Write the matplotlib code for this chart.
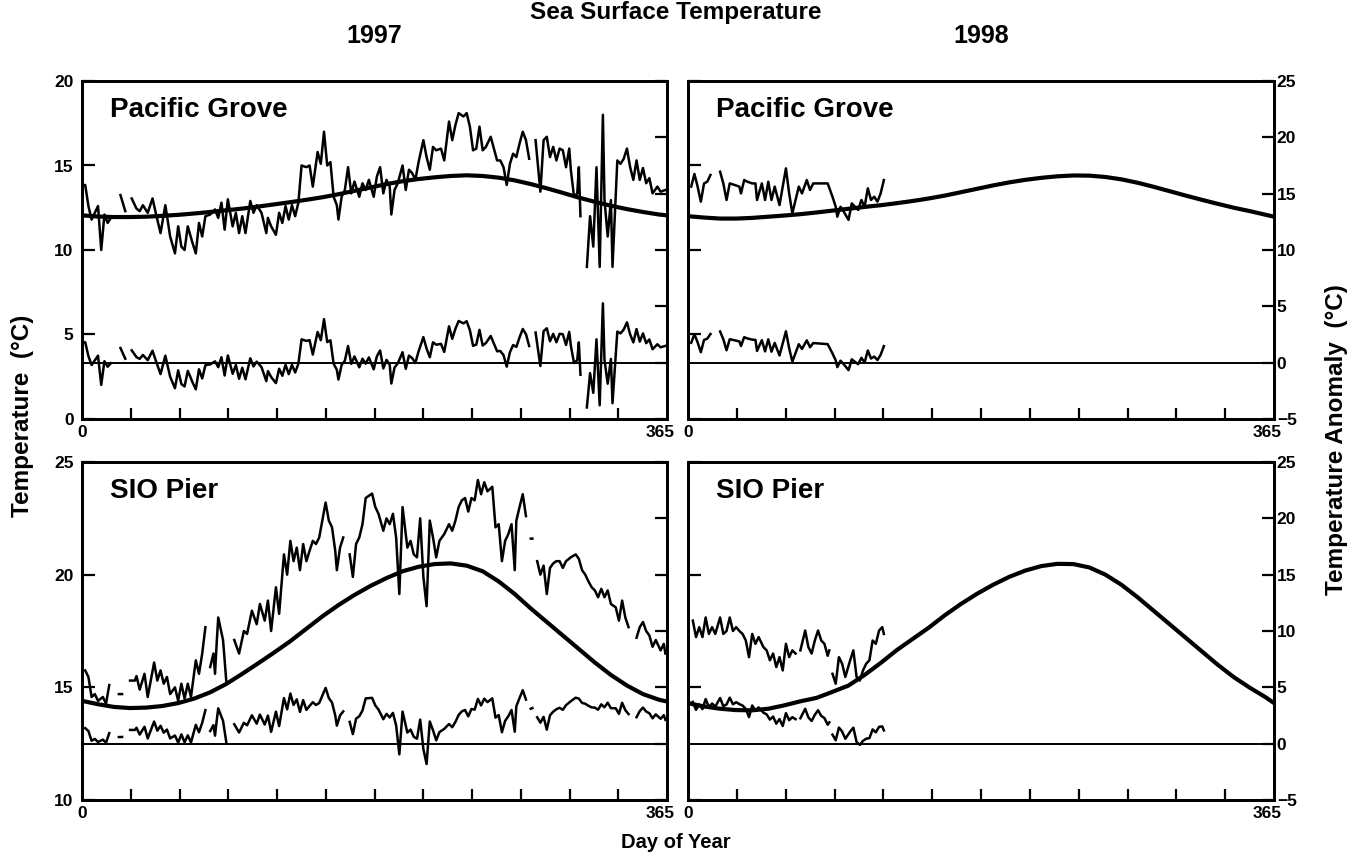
import numpy as np
import matplotlib
matplotlib.use("Agg")
import matplotlib.pyplot as plt
from matplotlib.transforms import ScaledTranslation

nan = np.nan

# daily sea surface temperature readings (day of year, deg C); nan = missing data
PG97_DAYS = [0, 2, 4, 6, 8, 10, 12, 14, 16, 18, 21, 24, 27, 29, 31, 34, 36, 38, 41, 44,
             46, 49, 52, 55, 58, 60, 62, 64, 66, 69, 71, 73, 75, 77, 80, 83, 85, 87, 89, 91,
             94, 96, 98, 100, 102, 105, 107, 109, 112, 115, 116, 118, 121, 123, 125, 127, 129, 131, 133, 135,
             137, 140, 142, 144, 147, 149, 151, 153, 155, 157, 159, 160, 162, 164, 166, 168, 170, 173, 175, 177,
             179, 182, 184, 186, 188, 190, 192, 193, 195, 197, 200, 202, 204, 206, 208, 210, 213, 215, 217, 219,
             221, 224, 226, 229, 231, 233, 235, 238, 240, 242, 244, 246, 248, 250, 252, 255, 257, 259, 261, 263,
             265, 267, 269, 271, 273, 275, 277, 279, 281, 283, 286, 288, 290, 292, 294, 296, 298, 300, 302, 304,
             305, 307, 309, 310, 311, 313, 315, 317, 319, 321, 323, 325, 326, 328, 330, 331, 334, 336, 338, 340,
             342, 344, 346, 348, 350, 352, 354, 356, 359, 361, 364]
PG97_TEMP = [13.8, 13.85, 12.6, 11.8, 12.2, 12.6, 10.0, 12.1, 11.6, 11.9, nan, 13.25, 12.3, nan, 13.05, 12.45, 12.3, 12.65, 12.2, 13.05,
             12.2, 11.0, 12.65, 10.8, 9.8, 11.4, 10.2, 10.0, 11.4, 10.4, 9.8, 11.6, 10.8, 12.0, 12.1, 12.4, 11.9, 12.8, 11.2, 13.0,
             11.4, 12.2, 11.0, 12.0, 11.0, 12.9, 12.2, 12.65, 12.2, 11.0, 11.9, 11.4, 10.9, 12.2, 11.6, 12.6, 11.8, 12.65, 12.0, 12.8,
             15.0, 14.9, 15.0, 13.75, 15.8, 15.1, 17.0, 15.0, 15.2, 13.15, 12.65, 11.8, 13.15, 13.55, 14.9, 13.35, 14.05, 13.15, 13.95, 13.55,
             14.15, 13.15, 14.35, 14.9, 13.35, 14.15, 13.75, 12.1, 13.55, 13.95, 15.0, 13.55, 14.75, 14.55, 14.15, 15.2, 16.5, 15.5, 14.75, 16.1,
             15.9, 16.0, 15.3, 17.6, 16.5, 17.4, 18.1, 17.9, 18.1, 17.3, 15.9, 16.0, 17.3, 15.9, 16.1, 16.7, 16.0, 15.3, 15.3, 14.9,
             13.85, 15.1, 15.7, 15.5, 16.3, 17.0, 16.5, 15.4, nan, 16.5, 13.45, 16.5, 16.7, 15.5, 16.1, 15.3, 16.0, 15.9, 14.9, 16.0,
             14.75, 13.15, 13.35, 14.9, 12.0, nan, 9.0, 12.0, 10.2, 14.9, 9.0, 18.0, 12.95, 10.8, 12.95, 9.0, 15.3, 15.1, 15.4, 16.0,
             14.9, 14.15, 15.3, 14.15, 14.85, 13.95, 14.25, 13.35, 13.75, 13.45, 13.55]

PG98_DAYS = [2, 4, 6, 8, 10, 12, 14, 17, 20, 22, 24, 26, 29, 32, 33, 35, 37, 40, 42, 43,
             46, 48, 50, 52, 54, 57, 59, 61, 63, 65, 67, 69, 71, 74, 76, 78, 81, 84, 87, 90,
             92, 93, 95, 97, 100, 102, 104, 106, 108, 110, 112, 114, 116, 118, 120, 122]
PG98_TEMP = [13.75, 14.5, 13.75, 12.86, 13.94, 14.04, 14.44, nan, 14.63, 13.94, 12.96, 13.94, 13.85, 13.75, 13.35, 14.14, 14.04, 13.94, 13.94, 12.96,
             13.94, 12.96, 14.04, 12.96, 13.75, 12.66, 13.75, 14.83, 13.35, 12.17, 12.96, 13.75, 13.35, 14.14, 13.55, 13.94, 13.94, 13.94, 13.94, 13.15,
             12.56, 11.97, 12.56, 12.27, 11.78, 12.76, 12.56, 12.37, 12.96, 12.56, 13.65, 12.96, 13.15, 12.86, 13.35, 14.14]

SIO97_DAYS = [2, 4, 6, 8, 10, 13, 15, 17, 20, 23, 25, 27, 30, 33, 34, 36, 39, 41, 45, 47,
              49, 51, 53, 55, 58, 60, 62, 64, 66, 68, 71, 73, 75, 77, 78, 80, 82, 83, 84, 85,
              88, 90, 93, 95, 98, 101, 103, 106, 109, 111, 114, 116, 118, 121, 123, 126, 128, 130, 132, 134,
              136, 138, 140, 142, 144, 146, 148, 152, 154, 156, 158, 159, 161, 163, 165, 167, 169, 171, 173, 175,
              177, 181, 183, 185, 188, 190, 192, 194, 196, 198, 200, 203, 205, 207, 209, 211, 213, 215, 217, 219,
              221, 223, 226, 229, 231, 233, 235, 237, 239, 241, 243, 245, 247, 249, 251, 253, 256, 258, 260, 262,
              264, 266, 268, 270, 271, 273, 275, 277, 279, 280, 281, 282, 284, 286, 288, 290, 292, 294, 296, 298,
              300, 302, 305, 308, 310, 312, 314, 316, 318, 320, 322, 324, 326, 328, 330, 333, 335, 337, 339, 341,
              344, 346, 348, 350, 352, 354, 356, 358, 361, 363, 364]
SIO97_TEMP = [15.75, 15.46, 14.57, 14.7, 14.4, 14.57, 14.28, 15.1, nan, 14.7, 14.7, nan, 15.3, 15.3, 15.5, 14.9, 15.6, 14.57, 16.1, 15.3,
              15.75, 15.16, 15.46, 14.7, 15.0, 14.4, 15.16, 14.5, 15.16, 14.57, 16.2, 15.6, 16.5, 17.67, nan, 15.9, 16.5, 15.6, 16.93, 18.1,
              17.1, 15.3, nan, 17.1, 16.5, 17.5, 17.37, 18.4, 17.8, 18.7, 17.96, 18.85, 17.5, 19.44, 18.26, 20.9, 20.0, 21.5, 20.6, 21.2,
              20.2, 21.36, 20.6, 21.06, 21.5, 21.36, 21.65, 23.2, 22.4, 22.1, 21.06, 20.2, 21.2, 21.65, nan, 20.9, 19.9, 21.36, 21.65, 22.24,
              23.4, 23.6, 23.0, 22.7, 21.95, 22.5, 22.24, 22.7, 21.65, 19.14, 23.0, 21.2, 21.5, 20.9, 20.77, 22.5, 19.9, 18.6, 22.4, 21.65,
              20.77, 21.5, 21.8, 22.24, 21.95, 22.4, 23.0, 23.3, 23.4, 22.8, 23.4, 23.3, 24.2, 23.57, 24.1, 23.7, 23.9, 22.1, 22.24, 20.6,
              21.5, 21.8, 22.24, 20.2, 22.4, 23.0, 23.57, 22.6, nan, 21.6, 21.6, nan, 20.6, 20.0, 20.4, 19.14, 20.3, 20.5, 20.6, 20.6,
              20.3, 20.6, 20.77, 20.9, 20.7, 20.2, 20.0, 19.7, 19.44, 19.3, 19.0, 19.37, 19.0, 19.3, 18.7, 18.55, 17.96, 18.85, 18.1, 17.67,
              nan, 17.2, 17.67, 17.9, 17.5, 17.3, 16.8, 17.1, 16.64, 16.93, 16.5]

SIO98_DAYS = [3, 5, 7, 9, 11, 13, 15, 17, 20, 22, 24, 26, 28, 30, 32, 34, 36, 38, 40, 42,
              44, 47, 49, 51, 53, 55, 57, 59, 61, 63, 65, 67, 69, 70, 73, 75, 77, 79, 81, 83,
              85, 87, 88, 89, 90, 92, 94, 96, 98, 101, 103, 105, 107, 109, 111, 113, 115, 117, 119, 121, 122]
SIO98_TEMP = [17.96, 17.23, 17.67, 17.23, 18.1, 17.37, 17.67, 17.37, 18.1, 17.37, 17.5, 18.1, 17.5, 17.67, 17.5, 17.37, 17.08, 16.34, 17.37, 16.93,
              17.23, 16.78, 16.64, 16.2, 16.5, 15.9, 16.34, 15.75, 16.93, 16.34, 16.64, 16.5, nan, 16.64, 17.52, 16.78, 16.5, 17.08, 17.52, 17.08,
              16.93, 16.4, 16.64, nan, 15.6, 15.16, 16.34, 16.05, 15.46, 16.2, 16.64, 15.46, 15.3, 15.75, 16.05, 16.2, 17.08, 16.93, 17.52, 17.67, 17.37]

# seasonal climatology curves (deg C), read every 10 days
CLIM_DAYS = [0, 10, 20, 30, 40, 50, 60, 70, 80, 90, 100, 110, 120, 130, 140, 150, 160, 170, 180,
             190, 200, 210, 220, 230, 240, 250, 260, 270, 280, 290, 300, 310, 320, 330, 340, 350, 360, 365]
PG97_CLIM = [12.05, 11.98, 11.95, 11.95, 11.97, 12.02, 12.08, 12.16, 12.25, 12.35, 12.45, 12.57, 12.7, 12.83, 12.97, 13.12,
             13.3, 13.5, 13.7, 13.9, 14.07, 14.2, 14.3, 14.38, 14.42, 14.38, 14.28, 14.12, 13.9, 13.65, 13.38, 13.1,
             12.85, 12.62, 12.42, 12.25, 12.1, 12.05]
PG98_CLIM = [12.0, 11.92, 11.86, 11.86, 11.9, 11.97, 12.04, 12.12, 12.22, 12.33, 12.44, 12.55, 12.65, 12.77, 12.9, 13.05,
             13.22, 13.42, 13.62, 13.82, 14.0, 14.15, 14.27, 14.36, 14.41, 14.4, 14.32, 14.18, 13.98, 13.74, 13.48, 13.22,
             12.97, 12.73, 12.5, 12.3, 12.08, 11.97]
SIO97_CLIM = [14.4, 14.25, 14.13, 14.08, 14.1, 14.17, 14.3, 14.5, 14.78, 15.15, 15.6, 16.07, 16.55, 17.05, 17.6, 18.15,
              18.65, 19.1, 19.5, 19.85, 20.15, 20.35, 20.47, 20.5, 20.4, 20.15, 19.7, 19.14, 18.5, 17.9, 17.3, 16.7,
              16.1, 15.55, 15.08, 14.7, 14.45, 14.37]
SIO98_CLIM = [14.3, 14.15, 14.05, 13.99, 13.98, 14.05, 14.2, 14.38, 14.53, 14.8, 15.08, 15.55, 16.08, 16.65, 17.15, 17.65,
              18.2, 18.7, 19.15, 19.55, 19.9, 20.18, 20.38, 20.48, 20.47, 20.32, 20.0, 19.55, 19.0, 18.4, 17.8, 17.2,
              16.6, 16.0, 15.45, 14.98, 14.55, 14.3]

plt.rcParams['font.family'] = ['Liberation Sans', 'DejaVu Sans']
plt.rcParams['font.weight'] = 'bold'

fig = plt.figure(figsize=(13.53, 8.56), dpi=100)
W, H = 1353.0, 856.0


def panel_box(x0, x1, y0, y1):
    return [x0 / W, 1 - y1 / H, (x1 - x0) / W, (y1 - y0) / H]


def draw_panel(box, days, temps, clim, tlim, site, left):
    ax = fig.add_axes(box)
    days = np.array(days, float)
    temps = np.array(temps, float)
    ax.plot(CLIM_DAYS, clim, color="black", lw=3.0)
    ax.plot(days, temps, color="black", lw=1.8)
    ax.set_xlim(0, 365)
    ax.set_ylim(*tlim)

    # anomaly = observed minus climatology, on the right-hand scale
    tw = ax.twinx()
    tw.set_ylim(-5, 25)
    anom = temps - np.interp(days, CLIM_DAYS, clim)
    tw.plot(days, anom, color="black", lw=1.8)
    tw.axhline(0, color="black", lw=1.4)

    for a in (ax, tw):
        for s in a.spines.values():
            s.set_linewidth(2.0)

    ax.set_yticks(np.arange(tlim[0], tlim[1] + 1, 5))
    ax.tick_params(axis="y", direction="in", length=9, width=1.6, labelsize=12.5,
                   labelleft=left, pad=6)
    tw.set_yticks(np.arange(-5, 26, 5))
    tw.tick_params(axis="y", direction="in", length=9, width=1.6, labelsize=12.5,
                   labelright=not left, pad=2)

    ax.set_xticks([0, 365])
    ax.set_xticklabels(["0", "365"])
    ax.set_xticks(np.arange(1, 12) * 365 / 12.0, minor=True)
    ax.tick_params(axis="x", which="major", length=0, labelsize=12.5, pad=4)
    ax.tick_params(axis="x", which="minor", direction="in", length=8, width=1.6)
    labs = ax.get_xticklabels()
    labs[1].set_transform(labs[1].get_transform() + ScaledTranslation(-7 / 100, 0, fig.dpi_scale_trans))

    ax.text(0.048, 0.915, site, transform=ax.transAxes, fontsize=20,
            fontweight="bold", ha="left", va="center")
    return ax


draw_panel(panel_box(82, 667, 81, 419), PG97_DAYS, PG97_TEMP, PG97_CLIM, (0, 20), "Pacific Grove", True)
draw_panel(panel_box(688, 1274, 81, 419), PG98_DAYS, PG98_TEMP, PG98_CLIM, (0, 20), "Pacific Grove", False)
draw_panel(panel_box(82, 667, 462, 800), SIO97_DAYS, SIO97_TEMP, SIO97_CLIM, (10, 25), "SIO Pier", True)
draw_panel(panel_box(688, 1274, 462, 800), SIO98_DAYS, SIO98_TEMP, SIO98_CLIM, (10, 25), "SIO Pier", False)

fig.text(676 / W, 1 - 13 / H, "Sea Surface Temperature", ha="center", va="center",
         fontsize=17.5, fontweight="bold")
fig.text(374 / W, 1 - 36 / H, "1997", ha="center", va="center", fontsize=18, fontweight="bold")
fig.text(981 / W, 1 - 36 / H, "1998", ha="center", va="center", fontsize=18, fontweight="bold")
fig.text(676 / W, 1 - 843 / H, "Day of Year", ha="center", va="center", fontsize=14.5, fontweight="bold")
fig.text(22 / W, 1 - 416 / H, "Temperature  (°C)", ha="center", va="center", rotation=90,
         fontsize=17.5, fontweight="bold")
fig.text(1336 / W, 1 - 440 / H, "Temperature Anomaly  (°C)", ha="center", va="center", rotation=90,
         fontsize=17.5, fontweight="bold")

fig.savefig("out.png", dpi=100)
